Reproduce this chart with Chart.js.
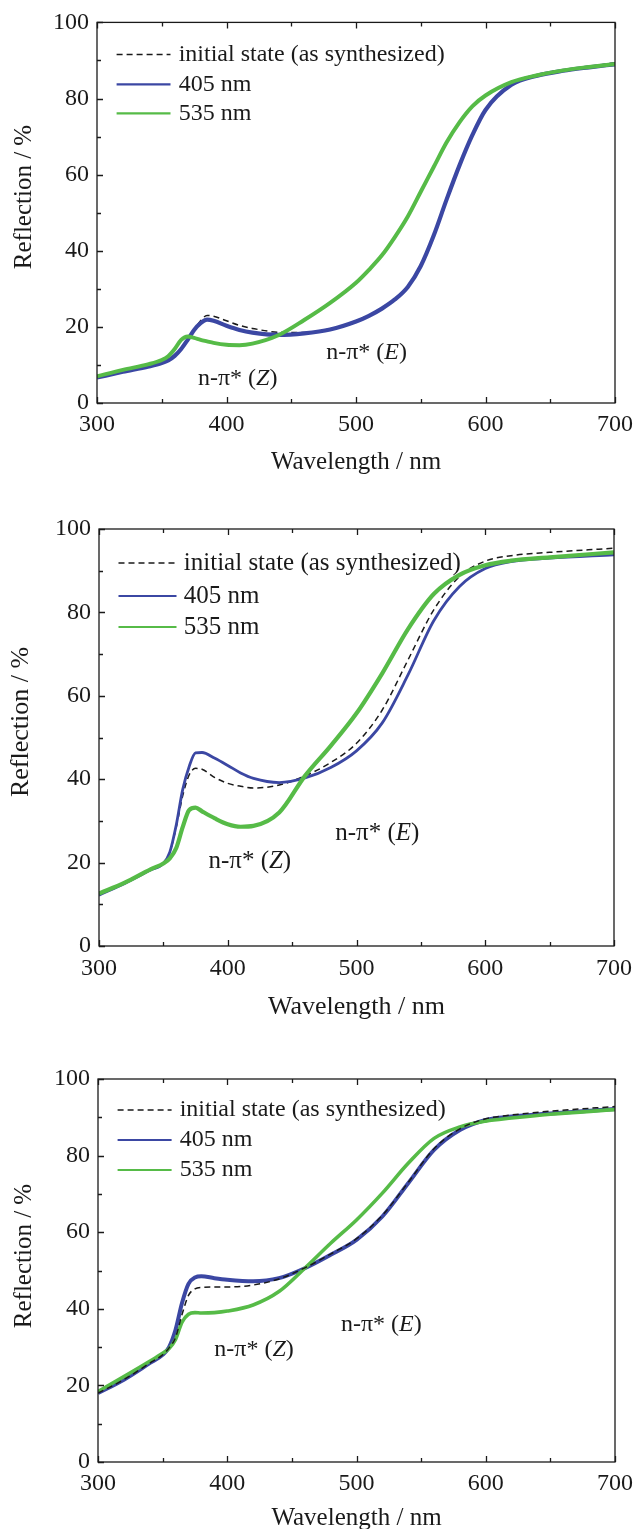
<!DOCTYPE html>
<html>
<head>
<meta charset="utf-8">
<script src="https://cdn.jsdelivr.net/npm/chart.js@4.4.1/dist/chart.umd.min.js"></script>
<style>
  body { margin: 0; background: #fff; width: 640px; height: 1529px; overflow: hidden; position: relative; }
  .panel { position: absolute; left: 0; width: 640px; }
</style>
</head>
<body>
<div class="panel" style="top:0;height:490px"><canvas id="c1"></canvas></div>
<div class="panel" style="top:490px;height:530px"><canvas id="c2"></canvas></div>
<div class="panel" style="top:1020px;height:509px"><canvas id="c3"></canvas></div>
<script>
// tick labels
const xTicks = [300, 400, 500, 600, 700];
const xMinor = [350, 450, 550, 650];
const yTicks = [0, 20, 40, 60, 80, 100];
const yMinor = [10, 30, 50, 70, 90];
const seriesNames = ['initial state (as synthesized)', '405 nm', '535 nm'];

// panel 1
const wl1 = [300, 320, 340, 350, 355, 360, 365, 370, 375, 380, 385, 390, 400, 410, 420, 440, 460, 480, 500, 510, 520, 530, 540, 550, 560, 570, 580, 590, 600, 620, 640, 660, 680, 700];
const blue1 = [6.7, 8.2, 9.6, 10.5, 11.2, 12.4, 14.2, 16.6, 19.2, 21.0, 21.9, 21.6, 20.3, 19.2, 18.5, 17.9, 18.3, 19.3, 21.4, 22.9, 24.8, 27.2, 30.5, 36.0, 44.0, 53.5, 62.5, 70.5, 77.0, 83.6, 86.0, 87.3, 88.2, 89.0];
const green1 = [7.0, 8.7, 10.2, 11.3, 12.3, 14.2, 16.6, 17.5, 17.1, 16.6, 16.2, 15.8, 15.3, 15.2, 15.6, 17.8, 21.8, 26.3, 31.6, 35.0, 38.8, 43.6, 49.0, 55.5, 62.0, 68.5, 73.8, 78.0, 80.8, 84.3, 86.1, 87.4, 88.3, 89.1];
const init1 = [6.7, 8.2, 9.6, 10.5, 11.2, 12.4, 14.2, 16.6, 19.2, 21.6, 23.0, 22.8, 21.6, 20.4, 19.6, 18.6, 18.5, 19.5, 21.6, 23.1, 25.0, 27.4, 30.7, 36.2, 44.2, 53.7, 62.7, 70.7, 77.2, 83.8, 86.2, 87.5, 88.4, 89.4];

// panel 2
const wl2 = [300, 320, 340, 350, 355, 360, 365, 370, 375, 380, 390, 400, 410, 420, 440, 460, 480, 500, 520, 540, 560, 580, 600, 620, 650, 700];
const blue2 = [12.2, 15.0, 18.2, 19.8, 22.5, 29.0, 37.5, 43.0, 46.3, 46.4, 45.0, 43.3, 41.5, 40.2, 39.2, 40.3, 42.8, 46.8, 53.5, 65.0, 78.0, 86.2, 90.5, 92.2, 93.0, 93.8];
const green2 = [12.6, 15.2, 18.4, 19.8, 21.0, 23.5, 28.5, 32.6, 33.2, 32.3, 30.6, 29.2, 28.6, 28.8, 32.0, 40.8, 48.0, 55.8, 65.4, 76.0, 84.4, 89.0, 91.3, 92.4, 93.2, 94.4];
const init2 = [12.4, 15.1, 18.3, 19.8, 22.5, 28.5, 36.0, 41.0, 42.6, 42.4, 40.4, 39.0, 38.3, 37.9, 38.6, 40.8, 44.0, 48.6, 56.6, 68.6, 80.6, 88.6, 92.3, 93.6, 94.4, 95.4];

// panel 3
const wl3 = [300, 320, 340, 350, 355, 360, 365, 370, 375, 380, 390, 400, 420, 440, 460, 480, 500, 520, 540, 560, 580, 600, 620, 650, 700];
const blue3 = [18.0, 21.5, 25.8, 28.0, 30.0, 34.5, 41.5, 46.5, 48.2, 48.5, 48.0, 47.6, 47.2, 48.0, 50.6, 54.1, 58.0, 64.1, 72.8, 81.5, 86.7, 89.3, 90.2, 91.0, 92.2];
const green3 = [18.4, 22.3, 26.3, 28.4, 29.6, 32.0, 36.5, 38.6, 39.0, 38.9, 39.0, 39.4, 41.0, 44.5, 50.6, 57.1, 63.2, 70.2, 78.0, 84.5, 87.5, 89.0, 89.8, 90.8, 92.0];
const init3 = [18.0, 21.5, 25.8, 28.0, 29.8, 32.5, 38.5, 43.5, 45.2, 45.6, 45.7, 45.7, 46.2, 47.8, 50.7, 54.3, 58.3, 64.4, 73.0, 81.8, 87.0, 89.6, 90.6, 91.6, 92.8];

const BLUE = '#3b47a3';
const GREEN = '#56bb47';
const INK = '#1a1a1a';
const SERIF = '"Liberation Serif", "Times New Roman", serif';

function pts(xs, ys) { return xs.map((x, i) => ({ x: x, y: ys[i] })); }

// frame, inward ticks, legend, axis titles and labels
const decor = {
  id: 'decor',
  afterDraw(chart, args, g) {
    const { ctx, chartArea: a, scales: { x, y } } = chart;
    ctx.save();
    ctx.strokeStyle = INK;
    ctx.lineWidth = 1.3;
    ctx.strokeRect(a.left, a.top, a.right - a.left, a.bottom - a.top);
    ctx.beginPath();
    const xt = xTicks.map(v => [v, 6]).concat(xMinor.map(v => [v, 4]));
    xt.forEach(([v, len]) => {
      const px = Math.round(x.getPixelForValue(v)) + 0.5;
      ctx.moveTo(px, a.bottom); ctx.lineTo(px, a.bottom - len);
      ctx.moveTo(px, a.top); ctx.lineTo(px, a.top + len);
    });
    const yt = yTicks.map(v => [v, 6]).concat(yMinor.map(v => [v, 4]));
    yt.forEach(([v, len]) => {
      const py = Math.round(y.getPixelForValue(v)) + 0.5;
      ctx.moveTo(a.left, py); ctx.lineTo(a.left + len, py);
    });
    ctx.stroke();

    // legend
    ctx.font = g.legendFont + 'px ' + SERIF;
    ctx.textBaseline = 'middle';
    ctx.textAlign = 'left';
    chart.data.datasets.forEach((ds, i) => {
      const yy = a.top + g.legendRows[i];
      ctx.beginPath();
      ctx.strokeStyle = ds.borderColor;
      ctx.lineWidth = i === 0 ? 1.5 : 2.2;
      ctx.setLineDash(ds.borderDash || []);
      ctx.moveTo(a.left + g.legendX[0], yy);
      ctx.lineTo(a.left + g.legendX[1], yy);
      ctx.stroke();
      ctx.setLineDash([]);
      ctx.fillStyle = INK;
      ctx.fillText(ds.label, a.left + g.legendX[2], yy);
    });

    // band annotations
    g.notes.forEach(n => {
      let px = x.getPixelForValue(n.x);
      const py = y.getPixelForValue(n.y);
      [['n-π* (', ''], [n.t, 'italic '], [')', '']].forEach(([s, st]) => {
        ctx.font = st + g.noteFont + 'px ' + SERIF;
        ctx.fillText(s, px, py);
        px += ctx.measureText(s).width;
      });
    });

    // axis titles
    ctx.font = g.titleFont + 'px ' + SERIF;
    ctx.textAlign = 'center';
    ctx.fillText('Wavelength / nm', (a.left + a.right) / 2, g.xTitleY);
    ctx.translate(g.yTitleX, g.yTitleY);
    ctx.rotate(-Math.PI / 2);
    ctx.fillText('Reflection / %', 0, 0);
    ctx.restore();
  }
};

function makeChart(id, wl, init, blue, green, geo) {
  return new Chart(document.getElementById(id), {
    type: 'line',
    data: {
      datasets: [
        { label: seriesNames[0], data: pts(wl, init), borderColor: INK, borderWidth: 1.5, borderDash: [6, 4], order: geo.dashOrder },
        { label: seriesNames[1], data: pts(wl, blue), borderColor: BLUE, borderWidth: geo.blueW, order: 2 },
        { label: seriesNames[2], data: pts(wl, green), borderColor: GREEN, borderWidth: geo.greenW, order: 1 }
      ]
    },
    options: {
      animation: false,
      responsive: true,
      maintainAspectRatio: false,
      elements: { point: { radius: 0 }, line: { cubicInterpolationMode: 'monotone' } },
      layout: { padding: { top: geo.top, right: 640 - geo.right, left: 0, bottom: 0 } },
      plugins: { legend: { display: false }, tooltip: { enabled: false }, decor: geo },
      scales: {
        x: {
          type: 'linear', min: 300, max: 700,
          afterBuildTicks: s => { s.ticks = xTicks.map(v => ({ value: v })); },
          afterFit: s => { s.height = geo.h - geo.bottom; },
          grid: { display: false, drawTicks: false },
          border: { display: false },
          ticks: { color: INK, padding: geo.xPad, maxRotation: 0, font: { family: SERIF, size: 24 } }
        },
        y: {
          min: 0, max: 100,
          afterBuildTicks: s => { s.ticks = yTicks.map(v => ({ value: v })); },
          afterFit: s => { s.width = geo.left; },
          grid: { display: false, drawTicks: false },
          border: { display: false },
          ticks: { color: INK, padding: 8, font: { family: SERIF, size: 24 } }
        }
      }
    },
    plugins: [decor]
  });
}

makeChart('c1', wl1, init1, blue1, green1, {
  h: 490, top: 20, bottom: 403, left: 97, right: 619, xPad: 7,
  blueW: 4.2, greenW: 4, dashOrder: 3,
  legendFont: 24, legendRows: [32, 62, 91], legendX: [19.6, 73.5, 81.7],
  noteFont: 24, notes: [{ x: 378, y: 6.5, t: 'Z' }, { x: 477, y: 13.3, t: 'E' }],
  titleFont: 25, xTitleY: 462, yTitleX: 24, yTitleY: 197
});

makeChart('c2', wl2, init2, blue2, green2, {
  h: 530, top: 39, bottom: 456, left: 99, right: 620, xPad: 8,
  blueW: 2.8, greenW: 4.2, dashOrder: 3,
  legendFont: 25, legendRows: [34, 67, 98], legendX: [19.5, 77.5, 84.8],
  noteFont: 25, notes: [{ x: 385, y: 20.2, t: 'Z' }, { x: 483.5, y: 27.0, t: 'E' }],
  titleFont: 26, xTitleY: 517, yTitleX: 21, yTitleY: 232
});

makeChart('c3', wl3, init3, blue3, green3, {
  h: 509, top: 59, bottom: 442, left: 98, right: 620, xPad: 7,
  blueW: 4, greenW: 3.6, dashOrder: 0,
  legendFont: 24, legendRows: [31, 61, 91], legendX: [19.6, 73.6, 81.7],
  noteFont: 24, notes: [{ x: 390, y: 29.3, t: 'Z' }, { x: 488, y: 35.8, t: 'E' }],
  titleFont: 25, xTitleY: 498, yTitleX: 24, yTitleY: 236
});
</script>
</body>
</html>
